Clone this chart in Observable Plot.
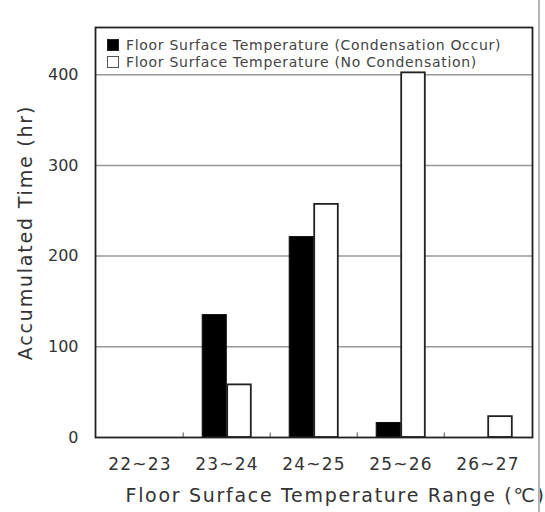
<!DOCTYPE html>
<html><head><meta charset="utf-8">
<script src="https://cdn.jsdelivr.net/npm/d3@7"></script>
<script src="https://cdn.jsdelivr.net/npm/@observablehq/plot@0.6"></script>
<style>
body{margin:0;background:#fff;}
#chart{position:relative;width:545px;height:512px;overflow:hidden;font-family:"DejaVu Sans",sans-serif;}
#chart svg{overflow:visible;font-family:"DejaVu Sans",sans-serif;}
g[aria-label="x-axis tick label"] text{letter-spacing:1.2px;}
#legend{position:absolute;left:107px;top:36px;font-size:14px;color:#444;letter-spacing:0.7px;}
#legend .row{display:flex;align-items:center;height:17px;white-space:nowrap;}
#legend .sw{width:12px;height:12px;margin-right:7px;box-sizing:border-box;border:1.5px solid #222;}
#edge{position:absolute;left:538px;top:0;width:2px;height:512px;background:#b5b5b5;}
</style></head>
<body><div id="chart"></div>
<script>
const categories = ["22~23","23~24","24~25","25~26","26~27"];
const condensation = [0, 135, 221, 16, 0];
const noCondensation = [0, 58, 257, 402, 23];
const yTicks = [0, 100, 200, 300, 400];
const seriesNames = ["Floor Surface Temperature (Condensation Occur)", "Floor Surface Temperature (No Condensation)"];
const yTitle = "Accumulated Time (hr)";
const xTitle = "Floor Surface Temperature Range (\u2103)";

const W = 545, H = 512, mL = 95, mR = 13, mT = 27, mB = 75;
const bw = (W - mL - mR) / categories.length;
const barW = 24.5;

const data1 = categories.map((c, i) => ({cat: c, value: condensation[i]}));
const data2 = categories.map((c, i) => ({cat: c, value: noCondensation[i]}));

const chart = Plot.plot({
  width: W, height: H,
  marginLeft: mL, marginRight: mR, marginTop: mT, marginBottom: mB,
  x: {domain: categories, padding: 0},
  y: {domain: [0, 452]},
  marks: [
    Plot.gridY(yTicks.slice(1), {stroke: "#999", strokeOpacity: 1, strokeWidth: 1.5}),
    Plot.barY(data1.filter(d => d.value > 0), {x: "cat", y: "value", fill: "#000", stroke: "#111", strokeWidth: 1,
      insetLeft: bw / 2 - barW, insetRight: bw / 2}),
    Plot.barY(data2.filter(d => d.value > 0), {x: "cat", y: "value", fill: "#fff", stroke: "#222", strokeWidth: 1.8,
      insetLeft: bw / 2 + 0.5, insetRight: bw / 2 - barW}),
    Plot.ruleX(categories.slice(1), {x: d => d, dx: -bw / 2, y1: 0, y2: 5, stroke: "#888", strokeWidth: 1.5}),
    Plot.frame({stroke: "#222", strokeWidth: 1.8}),
    Plot.axisY(yTicks, {tickSize: 0, tickPadding: 17, fontSize: 16, fill: "#333", label: null}),
    Plot.axisX({tickSize: 0, tickPadding: 20, fontSize: 17, fill: "#333", label: null}),
    Plot.text([yTitle], {text: d => d, frameAnchor: "left", textAnchor: "middle", dx: -70, rotate: -90, fontSize: 19, fill: "#333"}),
    Plot.text([xTitle], {text: d => d, frameAnchor: "bottom-left", textAnchor: "start", lineAnchor: "middle", dx: 30, dy: 58, fontSize: 19, fill: "#333"})
  ]
});
const root = document.getElementById("chart");
root.appendChild(chart);
d3.select(chart).selectAll("text").filter(function() { return this.textContent === yTitle; }).style("letter-spacing", "1.8px");
d3.select(chart).selectAll("text").filter(function() { return this.textContent === xTitle; }).style("letter-spacing", "1.7px");

const legend = document.createElement("div");
legend.id = "legend";
const fills = ["#000", "#fff"];
seriesNames.forEach((n, i) => {
  const row = document.createElement("div");
  row.className = "row";
  const sw = document.createElement("div");
  sw.className = "sw";
  sw.style.background = fills[i];
  if (i === 1) sw.style.borderColor = "#555";
  const t = document.createElement("span");
  t.textContent = n;
  row.appendChild(sw); row.appendChild(t);
  legend.appendChild(row);
});
root.appendChild(legend);
const edge = document.createElement("div");
edge.id = "edge";
root.appendChild(edge);
</script>
</body></html>
